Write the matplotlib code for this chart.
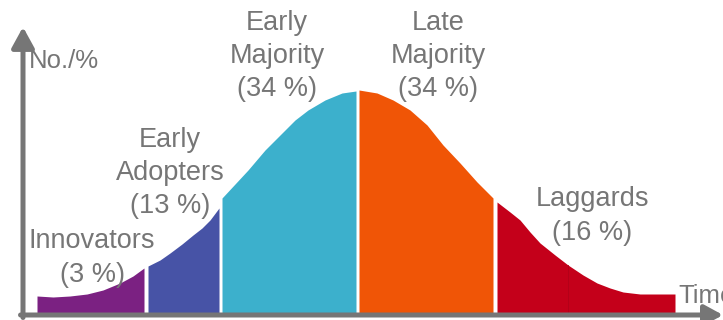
import matplotlib
matplotlib.use("Agg")
import matplotlib.pyplot as plt

# ---- data (curve: x position, curve height) ----
labels = ["Innovators\n(3 %)", "Early\nAdopters\n(13 %)", "Early\nMajority\n(34 %)",
          "Late\nMajority\n(34 %)", "Laggards\n(16 %)"]

innov_x = [14, 30, 47, 64, 80, 97, 110, 121]
innov_h = [19, 18, 19, 21, 25, 32, 39, 47]

adopt_x = [125, 137, 147, 159, 170, 179, 187, 196]
adopt_h = [49, 55, 62, 71, 80, 87, 95, 107]

early_x = [199, 212, 225, 242, 259, 272, 285, 302, 319, 333]
early_h = [117, 131, 145, 165, 182, 195, 205, 215, 222, 224]

late_x = [336, 354, 370, 387, 404, 420, 437, 454, 470]
late_h = [225, 222, 215, 205, 190, 170, 152, 133, 117]

lagg_x = [474, 487, 497, 507, 517, 532, 545, 560, 574, 587, 600, 617, 637, 652]
lagg_h = [113, 103, 95, 83, 72, 60, 50, 40, 32, 27, 23, 21, 21, 21]
lagg_split = 545

colors = ["#7B2182", "#4753A6", "#3CB0CC", "#F05506", "#C4001A"]
gray = "#767676"

fig = plt.figure(figsize=(7.23, 3.2), dpi=100)
ax = fig.add_axes([0, 0, 1, 1])
ax.set_xlim(-23, 700)
ax.set_ylim(-5, 315)
ax.axis("off")

segs = [(innov_x, innov_h), (adopt_x, adopt_h), (early_x, early_h),
        (late_x, late_h), (lagg_x, lagg_h)]
for (xs, hs), c in zip(segs, colors):
    ax.fill_between(xs, 0, hs, color=c, linewidth=0, zorder=2)

# faint divider inside the laggards area
i = lagg_x.index(lagg_split)
ax.plot([lagg_split, lagg_split], [0, lagg_h[i]], color="#B20018", lw=0.6, zorder=3)

# axes arrows
ax.annotate("", xy=(0, 288), xytext=(0, -2.5),
            arrowprops=dict(arrowstyle="-|>,head_length=0.62,head_width=0.34",
                            mutation_scale=20, lw=3.6, color=gray,
                            shrinkA=0, shrinkB=0), zorder=4)
ax.annotate("", xy=(700, 0), xytext=(-2.5, 0),
            arrowprops=dict(arrowstyle="-|>,head_length=0.55,head_width=0.3",
                            mutation_scale=20, lw=3.6, color=gray,
                            shrinkA=0, shrinkB=0), zorder=4)

fs = 19.5
label_pos = [(69, 57), (147, 142), (254, 259), (415, 259), (569, 99)]
for t, (x, y) in zip(labels, label_pos):
    ax.text(x, y, t, ha="center", va="center", fontsize=fs, color=gray,
            family="Liberation Sans", linespacing=1.36, zorder=5)

ax.text(6, 254, "No./%", ha="left", va="center", fontsize=18.5, color=gray,
        family="Liberation Sans", zorder=5)
ax.text(655, 19, "Time", ha="left", va="center", fontsize=18.5, color=gray,
        family="Liberation Sans", zorder=5)

fig.savefig("out.png", dpi=100)
